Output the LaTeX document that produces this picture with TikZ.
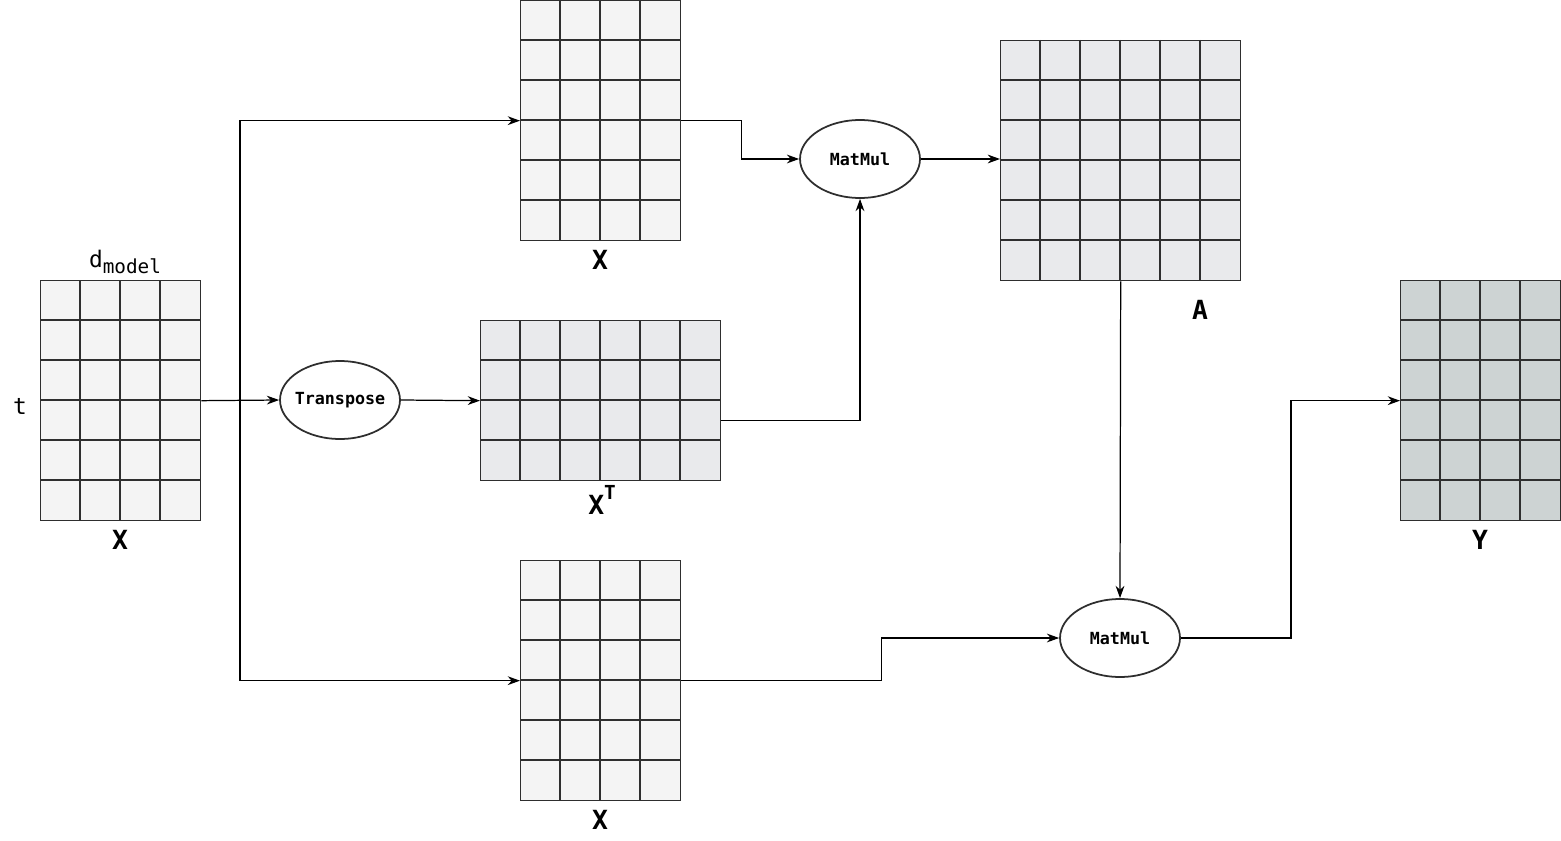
\documentclass[tikz,border=0pt]{standalone}
\usepackage{fontspec}
\setmonofont{DejaVu Sans Mono}
\usetikzlibrary{shapes.geometric,arrows.meta}
\definecolor{cellA}{HTML}{F4F4F4}
\definecolor{cellB}{HTML}{E9EAEC}
\definecolor{cellC}{HTML}{CDD3D3}
\definecolor{inkc}{HTML}{2E2E2E}
\tikzset{
  matbox/.style={draw=inkc, line width=0.8pt, inner sep=0pt, anchor=north west},
  gridline/.style={draw=inkc, line width=0.8pt},
  opnode/.style={ellipse, draw=inkc, line width=1pt, fill=white, inner sep=-6pt,
     minimum width=2.4cm, minimum height=1.56cm, font=\ttfamily\bfseries\fontsize{9.5}{11}\selectfont},
  lbl/.style={font=\ttfamily\bfseries\fontsize{15}{18}\selectfont, inner sep=0pt},
  sublbl/.style={font=\ttfamily\fontsize{13}{16}\selectfont, inner sep=0pt},
  arr/.style={draw=black, line width=0.7pt, -{Stealth[length=7pt,width=5pt]}}
}
\newcommand{\gridmat}[6]{%
  \node[matbox, fill=#6, minimum width=#4*0.8cm, minimum height=#5*0.8cm] (#1) at (#2,#3) {};
  \pgfmathtruncatemacro{\cmax}{#4-1}
  \pgfmathtruncatemacro{\rmax}{#5-1}
  \foreach \ci in {1,...,\cmax}{\draw[gridline] ([xshift=\ci*0.8cm]#1.north west) -- ([xshift=\ci*0.8cm]#1.south west);}
  \foreach \ri in {1,...,\rmax}{\draw[gridline] ([yshift=-\ri*0.8cm]#1.north west) -- ([yshift=-\ri*0.8cm]#1.north east);}
}
\begin{document}
\begin{tikzpicture}[x=0.02cm,y=-0.02cm]
\useasboundingbox (0,0) rectangle (1561,841);
% matrices
\gridmat{X0}{40}{280}{4}{6}{cellA}
\gridmat{X1}{520}{0}{4}{6}{cellA}
\gridmat{XT}{480}{320}{6}{4}{cellB}
\gridmat{X3}{520}{560}{4}{6}{cellA}
\gridmat{A}{1000}{40}{6}{6}{cellB}
\gridmat{Y}{1400}{280}{4}{6}{cellC}
% operation nodes
\node[opnode] (tr) at (340,400) {Transpose};
\node[opnode] (mm1) at (860,159) {MatMul};
\node[opnode] (mm2) at (1120,638) {MatMul};
% labels
\node[sublbl] (dm) at (125,262) {d\raisebox{-0.45ex}{\fontsize{11}{13}\selectfont model}};
\node[sublbl] (tl) at (20,406) {t};
\node[lbl] (lx0) at (120,540) {X};
\node[lbl] (lx1) at (600,260) {X};
\node[lbl] (lxt) at (602,500) {X\raisebox{1.1ex}{\fontsize{11}{13}\selectfont T}};
\node[lbl] (lx3) at (600,820) {X};
\node[lbl] (la) at (1200,310) {A};
\node[lbl] (ly) at (1480,540) {Y};
% connectors
\coordinate (s) at (240,400);
\draw[arr] (X0.east) -- (tr.west);
\draw[arr] (s) |- (X1.west);
\draw[arr] (s) |- (X3.west);
\draw[arr] (X1.east) -- ++(60,0) |- (mm1.west);
\draw[arr] (tr.east) -- (XT.west);
\draw[arr] ([yshift=-0.4cm]XT.east) -| (mm1.south);
\draw[arr] (mm1.east) -- (mm1.east -| A.west);
\draw[arr] (A.south) -- (mm2.north);
\draw[arr] (X3.east) -- ++(200,0) |- (mm2.west);
\draw[arr] (mm2.east) -- ++(110,0) |- (Y.west);
\end{tikzpicture}
\end{document}
